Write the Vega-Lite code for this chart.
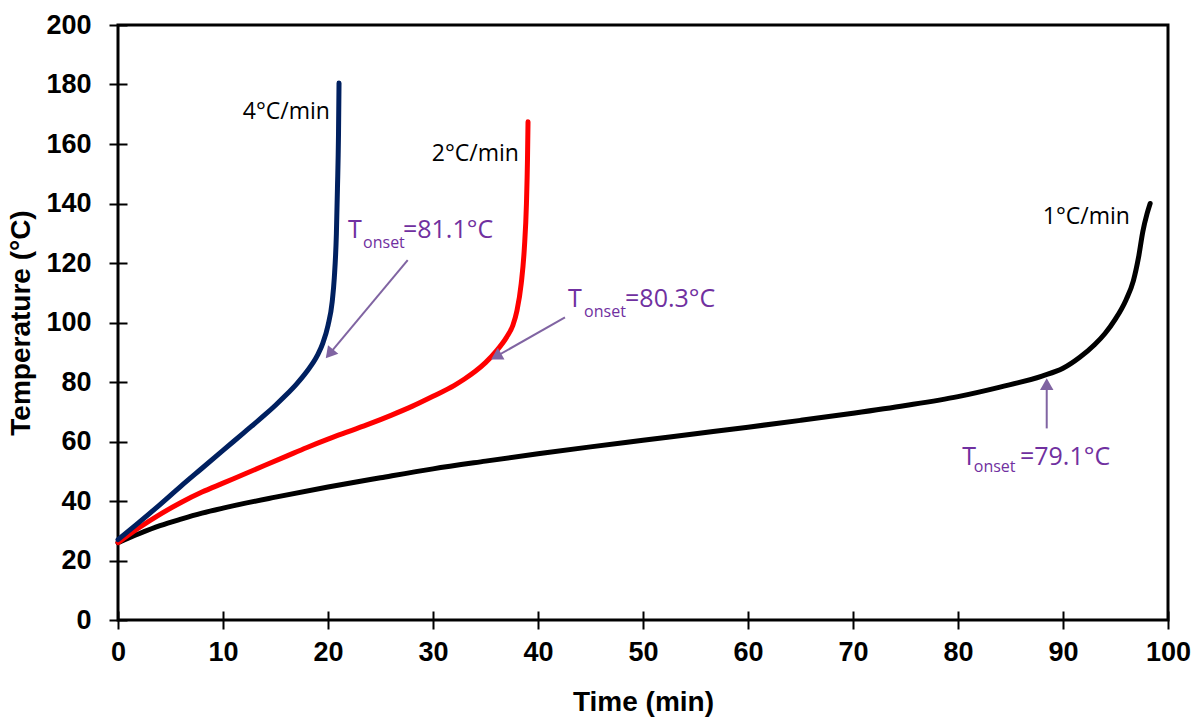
{
  "$schema": "https://vega.github.io/schema/vega-lite/v6.json",
  "width": 1050,
  "height": 595,
  "autosize": {"type": "none"},
  "padding": {"left": 118, "top": 25, "right": 23, "bottom": 97},
  "background": "white",
  "config": {
    "view": {"stroke": "black", "strokeWidth": 3},
    "axis": {
      "domain": false,
      "grid": false,
      "labelFont": "Liberation Sans",
      "labelFontWeight": "bold",
      "labelFontSize": 27,
      "labelColor": "black",
      "titleFont": "Liberation Sans",
      "titleFontWeight": "bold",
      "titleFontSize": 28,
      "titleColor": "black",
      "tickColor": "black",
      "tickWidth": 2,
      "tickSize": 18,
      "offset": -9
    }
  },
  "datasets": {
    "curves": [
      {"series": "1", "time": 0, "temp": 26},
      {"series": "1", "time": 2, "temp": 29},
      {"series": "1", "time": 4, "temp": 31.7},
      {"series": "1", "time": 6, "temp": 33.9},
      {"series": "1", "time": 8, "temp": 35.9},
      {"series": "1", "time": 10, "temp": 37.6},
      {"series": "1", "time": 15, "temp": 41.3},
      {"series": "1", "time": 20, "temp": 44.7},
      {"series": "1", "time": 25, "temp": 47.8},
      {"series": "1", "time": 30, "temp": 50.8},
      {"series": "1", "time": 35, "temp": 53.4},
      {"series": "1", "time": 40, "temp": 55.9},
      {"series": "1", "time": 45, "temp": 58.2},
      {"series": "1", "time": 50, "temp": 60.4},
      {"series": "1", "time": 55, "temp": 62.6},
      {"series": "1", "time": 60, "temp": 64.8},
      {"series": "1", "time": 65, "temp": 67.1},
      {"series": "1", "time": 70, "temp": 69.5},
      {"series": "1", "time": 75, "temp": 72.1},
      {"series": "1", "time": 80, "temp": 75.1},
      {"series": "1", "time": 84, "temp": 78.3},
      {"series": "1", "time": 88, "temp": 82},
      {"series": "1", "time": 90, "temp": 84.6},
      {"series": "1", "time": 91.6, "temp": 88.3},
      {"series": "1", "time": 93, "temp": 92.5},
      {"series": "1", "time": 94, "temp": 96.3},
      {"series": "1", "time": 95, "temp": 101.2},
      {"series": "1", "time": 96, "temp": 107.6},
      {"series": "1", "time": 96.7, "temp": 114},
      {"series": "1", "time": 97.2, "temp": 122},
      {"series": "1", "time": 97.6, "temp": 130.5},
      {"series": "1", "time": 98, "temp": 136.5},
      {"series": "1", "time": 98.3, "temp": 140},
      {"series": "2", "time": 0, "temp": 26},
      {"series": "2", "time": 2, "temp": 31},
      {"series": "2", "time": 4, "temp": 35.5},
      {"series": "2", "time": 6, "temp": 39.5},
      {"series": "2", "time": 8, "temp": 43},
      {"series": "2", "time": 10, "temp": 46},
      {"series": "2", "time": 12, "temp": 49},
      {"series": "2", "time": 14, "temp": 52},
      {"series": "2", "time": 16, "temp": 55},
      {"series": "2", "time": 18, "temp": 58},
      {"series": "2", "time": 20, "temp": 60.8},
      {"series": "2", "time": 22, "temp": 63.4},
      {"series": "2", "time": 24, "temp": 66},
      {"series": "2", "time": 26, "temp": 68.8},
      {"series": "2", "time": 28, "temp": 71.8},
      {"series": "2", "time": 30, "temp": 75.2},
      {"series": "2", "time": 32, "temp": 78.8},
      {"series": "2", "time": 33, "temp": 81},
      {"series": "2", "time": 34, "temp": 83.5},
      {"series": "2", "time": 35, "temp": 86.5},
      {"series": "2", "time": 36, "temp": 90.3},
      {"series": "2", "time": 37, "temp": 95},
      {"series": "2", "time": 37.6, "temp": 99},
      {"series": "2", "time": 38, "temp": 104},
      {"series": "2", "time": 38.4, "temp": 113},
      {"series": "2", "time": 38.7, "temp": 125},
      {"series": "2", "time": 38.9, "temp": 140},
      {"series": "2", "time": 39, "temp": 155},
      {"series": "2", "time": 39.05, "temp": 167.5},
      {"series": "4", "time": 0, "temp": 27},
      {"series": "4", "time": 2, "temp": 32.8},
      {"series": "4", "time": 4, "temp": 38.8},
      {"series": "4", "time": 6, "temp": 45},
      {"series": "4", "time": 8, "temp": 51},
      {"series": "4", "time": 10, "temp": 57},
      {"series": "4", "time": 12, "temp": 63},
      {"series": "4", "time": 14, "temp": 69},
      {"series": "4", "time": 15, "temp": 72.2},
      {"series": "4", "time": 16, "temp": 75.6},
      {"series": "4", "time": 17, "temp": 79.3},
      {"series": "4", "time": 18, "temp": 83.6},
      {"series": "4", "time": 19, "temp": 89},
      {"series": "4", "time": 19.5, "temp": 93},
      {"series": "4", "time": 20, "temp": 99},
      {"series": "4", "time": 20.4, "temp": 107},
      {"series": "4", "time": 20.6, "temp": 115},
      {"series": "4", "time": 20.8, "temp": 130},
      {"series": "4", "time": 20.9, "temp": 145},
      {"series": "4", "time": 21, "temp": 163},
      {"series": "4", "time": 21.05, "temp": 180.5}
    ],
    "labels": [
      {"kind": "rate", "x": 20.19, "y": 168.3, "text": "4°C/min"},
      {"kind": "rate", "x": 38.19, "y": 154.3, "text": "2°C/min"},
      {"kind": "rate", "x": 96.38, "y": 133.0, "text": "1°C/min"},
      {"kind": "big", "x": 21.9, "y": 128.4, "text": "T"},
      {"kind": "sub", "x": 23.34, "y": 125.0, "text": "onset"},
      {"kind": "big", "x": 27.14, "y": 128.4, "text": "=81.1°C"},
      {"kind": "big", "x": 42.86, "y": 105.1, "text": "T"},
      {"kind": "sub", "x": 44.39, "y": 101.7, "text": "onset"},
      {"kind": "big", "x": 48.29, "y": 105.1, "text": "=80.3°C"},
      {"kind": "big", "x": 80.4, "y": 52.1, "text": "T"},
      {"kind": "sub", "x": 81.5, "y": 49.85, "text": "onset"},
      {"kind": "big", "x": 85.9, "y": 52.1, "text": "=79.1°C"}
    ],
    "arrows": [
      {"id": "a1", "x": 27.59, "y": 121.0, "x2": 20.14, "y2": 89.45},
      {"id": "a2", "x": 42.57, "y": 101.7, "x2": 36.01, "y2": 88.57},
      {"id": "a3", "x": 88.45, "y": 64.4, "x2": 88.45, "y2": 79.3}
    ]
  },
  "layer": [
    {
      "data": {"name": "curves"},
      "mark": {"type": "line", "strokeWidth": 5, "strokeCap": "round", "strokeJoin": "round", "interpolate": "monotone"},
      "encoding": {
        "x": {
          "field": "time", "type": "quantitative",
          "scale": {"domain": [0, 100], "nice": false, "zero": false},
          "axis": {"values": [0, 10, 20, 30, 40, 50, 60, 70, 80, 90, 100], "title": "Time (min)", "labelPadding": 10, "titlePadding": 23, "labelFlush": false}
        },
        "y": {
          "field": "temp", "type": "quantitative",
          "scale": {"domain": [0, 200], "nice": false},
          "axis": {"values": [0, 20, 40, 60, 80, 100, 120, 140, 160, 180, 200], "title": "Temperature (°C)", "labelPadding": 18, "titlePadding": 10}
        },
        "color": {
          "field": "series", "type": "nominal",
          "scale": {"domain": ["1", "2", "4"], "range": ["#000000", "#FF0000", "#002060"]},
          "legend": null
        }
      }
    },
    {
      "data": {"name": "arrows"},
      "mark": {"type": "rule", "color": "#8064A2", "strokeWidth": 2},
      "encoding": {
        "x": {"field": "x", "type": "quantitative"},
        "y": {"field": "y", "type": "quantitative"},
        "x2": {"field": "x2"},
        "y2": {"field": "y2"}
      }
    },
    {
      "data": {"name": "arrows"},
      "transform": [{"filter": "datum.id === 'a1'"}],
      "mark": {"type": "point", "shape": "triangle-up", "filled": true, "color": "#8064A2", "opacity": 1, "size": 180, "angle": 219.8},
      "encoding": {
        "x": {"field": "x2", "type": "quantitative"},
        "y": {"field": "y2", "type": "quantitative"}
      }
    },
    {
      "data": {"name": "arrows"},
      "transform": [{"filter": "datum.id === 'a2'"}],
      "mark": {"type": "point", "shape": "triangle-up", "filled": true, "color": "#8064A2", "opacity": 1, "size": 180, "angle": 240.3},
      "encoding": {
        "x": {"field": "x2", "type": "quantitative"},
        "y": {"field": "y2", "type": "quantitative"}
      }
    },
    {
      "data": {"name": "arrows"},
      "transform": [{"filter": "datum.id === 'a3'"}],
      "mark": {"type": "point", "shape": "triangle-up", "filled": true, "color": "#8064A2", "opacity": 1, "size": 180, "angle": 0},
      "encoding": {
        "x": {"field": "x2", "type": "quantitative"},
        "y": {"field": "y2", "type": "quantitative"}
      }
    },
    {
      "data": {"name": "labels"},
      "transform": [{"filter": "datum.kind === 'rate'"}],
      "mark": {"type": "text", "font": "Open Sans", "fontSize": 23, "color": "black", "align": "right", "baseline": "alphabetic"},
      "encoding": {
        "x": {"field": "x", "type": "quantitative"},
        "y": {"field": "y", "type": "quantitative"},
        "text": {"field": "text"}
      }
    },
    {
      "data": {"name": "labels"},
      "transform": [{"filter": "datum.kind === 'big'"}],
      "mark": {"type": "text", "font": "Open Sans", "fontSize": 25, "color": "#7030A0", "align": "left", "baseline": "alphabetic"},
      "encoding": {
        "x": {"field": "x", "type": "quantitative"},
        "y": {"field": "y", "type": "quantitative"},
        "text": {"field": "text"}
      }
    },
    {
      "data": {"name": "labels"},
      "transform": [{"filter": "datum.kind === 'sub'"}],
      "mark": {"type": "text", "font": "Open Sans", "fontSize": 16, "color": "#7030A0", "align": "left", "baseline": "alphabetic"},
      "encoding": {
        "x": {"field": "x", "type": "quantitative"},
        "y": {"field": "y", "type": "quantitative"},
        "text": {"field": "text"}
      }
    }
  ]
}
